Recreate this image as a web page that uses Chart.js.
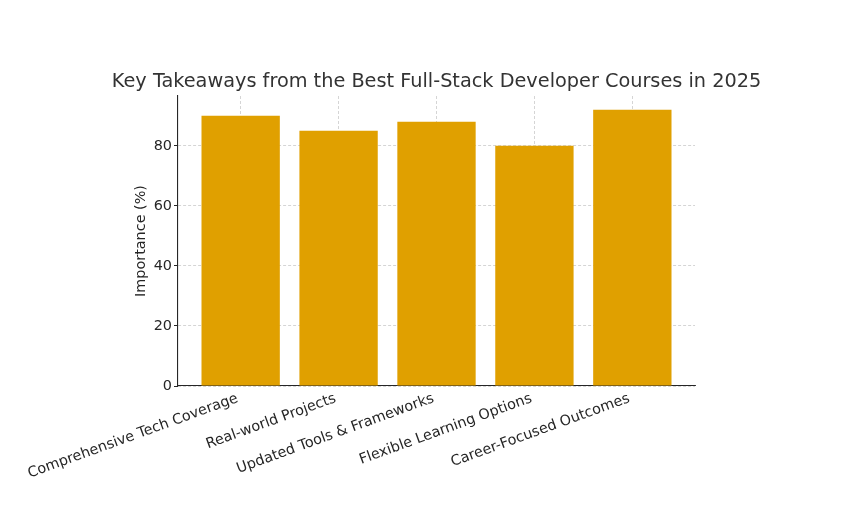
<!DOCTYPE html>
<html>
<head>
<meta charset="utf-8">
<script src="https://cdn.jsdelivr.net/npm/chart.js@4.4.0/dist/chart.umd.min.js"></script>
<style>
  html, body { margin: 0; padding: 0; background: #ffffff; }
  #wrap { width: 861px; height: 513px; }
</style>
</head>
<body>
<div id="wrap"><canvas id="c" width="861" height="513"></canvas></div>
<script>
const chartTitle = "Key Takeaways from the Best Full-Stack Developer Courses in 2025";
const yAxisTitle = "Importance (%)";
const categories = [
  "Comprehensive Tech Coverage",
  "Real-world Projects",
  "Updated Tools & Frameworks",
  "Flexible Learning Options",
  "Career-Focused Outcomes"
];
const importance = [90, 85, 88, 80, 92];
const yTicks = [0, 20, 40, 60, 80];

const FONT = "'DejaVu Sans', 'Liberation Sans', sans-serif";
const TEXT = '#262626';
const GRID = 'rgba(180,180,180,0.7)';
const TICK_SIZE = 14.4;

const points = categories.map((c, i) => ({ x: i, y: importance[i] }));

new Chart(document.getElementById('c'), {
  type: 'bar',
  data: {
    datasets: [{
      data: points,
      backgroundColor: '#E0A000',
      borderWidth: 0,
      barPercentage: 0.8,
      categoryPercentage: 1.0
    }]
  },
  options: {
    responsive: false,
    animation: false,
    devicePixelRatio: 1,
    layout: { padding: { left: 12, right: 0, top: 0, bottom: 0 } },
    plugins: {
      legend: { display: false },
      tooltip: { enabled: false },
      title: {
        display: true,
        text: chartTitle,
        color: '#333333',
        font: { family: FONT, size: 19.3, weight: 'normal', lineHeight: 1.2 },
        padding: { top: 70.4, bottom: 2.44 }
      }
    },
    scales: {
      x: {
        type: 'linear',
        min: -0.64,
        max: 4.64,
        offset: false,
        z: 1,
        afterBuildTicks: (s) => { s.ticks = categories.map((c, i) => ({ value: i })); },
        afterFit: (s) => { s.height = 127; },
        ticks: {
          autoSkip: false,
          minRotation: 20,
          maxRotation: 20,
          padding: 4,
          labelOffset: -3,
          color: TEXT,
          font: { family: FONT, size: TICK_SIZE },
          callback: (v) => categories[Math.round(v)]
        },
        grid: {
          offset: false,
          color: GRID,
          lineWidth: 0.8,
          drawTicks: false
        },
        border: { display: true, color: '#262626', width: 1.1, dash: [3, 2] }
      },
      y: {
        type: 'linear',
        position: 'left',
        min: 0,
        max: 96.6,
        z: 1,
        afterBuildTicks: (s) => { s.ticks = yTicks.map(v => ({ value: v })); },
        afterFit: (s) => { s.width = 166; },
        ticks: {
          includeBounds: false,
          padding: 2,
          color: TEXT,
          font: { family: FONT, size: TICK_SIZE }
        },
        grid: {
          color: GRID,
          lineWidth: 0.8,
          drawTicks: true,
          tickLength: 4,
          tickColor: '#262626',
          tickWidth: 1,
          tickBorderDash: []
        },
        border: { display: true, color: '#262626', width: 1.1, dash: [3, 2] },
        title: {
          display: true,
          text: yAxisTitle,
          color: TEXT,
          font: { family: FONT, size: TICK_SIZE, lineHeight: 1.2 },
          padding: { top: 121, bottom: 0 }
        }
      },
      spacer: {
        type: 'linear',
        position: 'right',
        display: true,
        afterFit: (s) => { s.width = 166; },
        ticks: { display: false },
        grid: { display: false, drawTicks: false },
        border: { display: false },
        title: { display: false }
      }
    }
  }
});
</script>
</body>
</html>
